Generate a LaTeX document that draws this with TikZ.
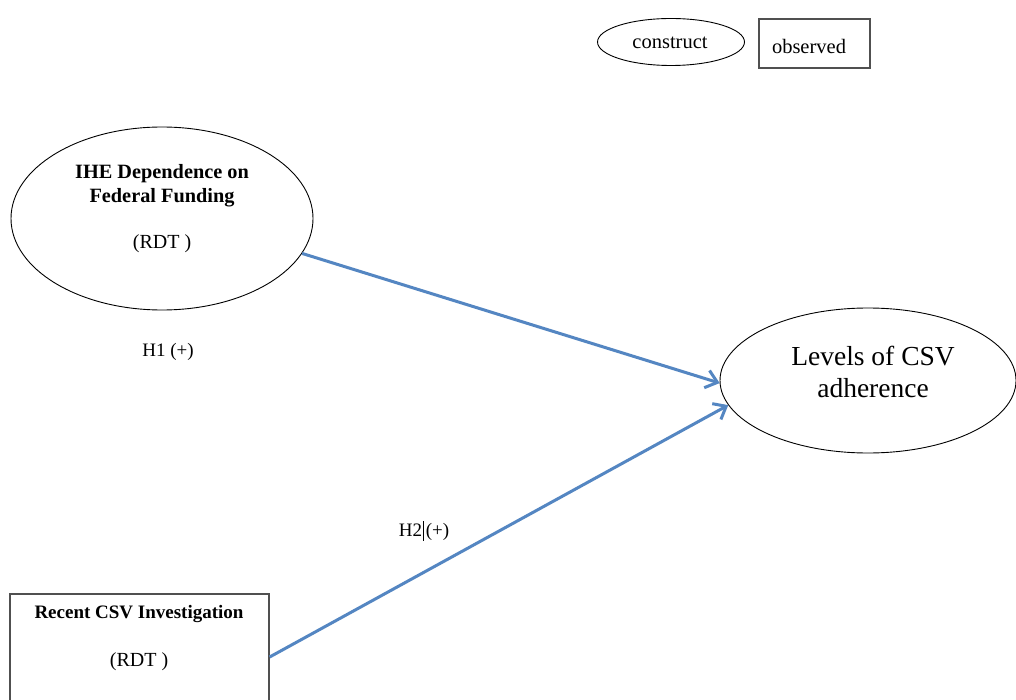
\documentclass[tikz,border=0pt]{standalone}
\usepackage{fontspec}
\setmainfont{Liberation Serif}
\usetikzlibrary{arrows.meta,shapes.geometric}
\definecolor{arrowblue}{RGB}{84,134,194}
\definecolor{boxgray}{RGB}{80,80,80}
\tikzset{
  construct/.style={draw=black, line width=0.9pt, ellipse, inner sep=0pt},
  observedbox/.style={draw=boxgray, line width=1.3pt, rectangle, inner sep=0pt},
  txt/.style={inner sep=0pt, align=center, text=black},
  path arrow/.style={draw=arrowblue, line width=3pt, -{Straight Barb[length=11pt,width=18pt,line width=3pt]}}
}
\begin{document}
\begin{tikzpicture}[x=1pt,y=-1pt]
\useasboundingbox (0,0) rectangle (1016,700);
\fill[white] (0,0) rectangle (1016,700);

% legend
\node[construct, minimum width=147pt, minimum height=47pt] (legc) at (671,42) {};
\node[txt, font=\fontsize{20.5}{22}\selectfont] (legct) at (670,43) {construct};
\node[observedbox, minimum width=111pt, minimum height=49pt] (lego) at (814.5,43.5) {};
\node[txt, font=\fontsize{20.5}{22}\selectfont] (legot) at (809,46.5) {observed};

% IHE construct
\node[construct, minimum width=302pt, minimum height=183pt] (ihe) at (162,218.5) {};
\node[txt, font=\bfseries\fontsize{20.3}{24}\selectfont] (ihet) at (162,186) {IHE Dependence on\\Federal Funding};
\node[txt, font=\fontsize{20}{22}\selectfont] (ihed) at (162,243.5) {(RDT )};
\node[txt, font=\fontsize{19}{22}\selectfont] (h1) at (168,352) {H1 (+)};

% Levels construct
\node[construct, minimum width=296pt, minimum height=145pt] (lev) at (868,380.5) {};
\node[txt, font=\fontsize{27.5}{32}\selectfont] (levt) at (873,372) {Levels of CSV\\adherence};

% Recent observed
\node[observedbox, minimum width=259pt, minimum height=126pt] (rec) at (139.5,657) {};
\node[txt, font=\bfseries\fontsize{19}{22}\selectfont] (rect) at (139,613.5) {Recent CSV Investigation};
\node[txt, font=\fontsize{20}{22}\selectfont] (recd) at (139,661.5) {(RDT )};

\node[txt, font=\fontsize{19}{22}\selectfont] (h2) at (424,531) {H2\kern1pt\rule[-4pt]{0.7pt}{20pt}\kern2pt(+)};

% arrows
\draw[path arrow] (ihe.-14) -- (lev.181);
\draw[path arrow] (rec.east) -- (lev.190);
\end{tikzpicture}
\end{document}
